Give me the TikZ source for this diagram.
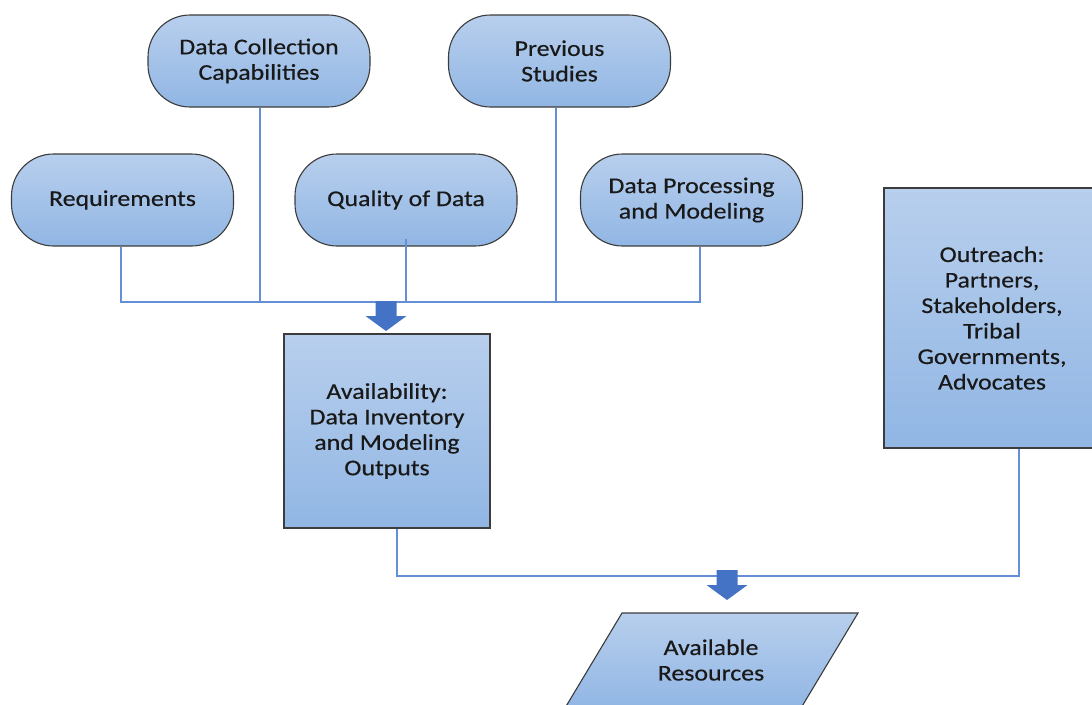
\documentclass[tikz,border=0pt]{standalone}
\usepackage{fontspec}
\setmainfont{Carlito}[FakeStretch=1.15,FakeBold=0.4]
\definecolor{topc}{RGB}{184,207,237}
\definecolor{botc}{RGB}{145,182,228}
\definecolor{edgec}{RGB}{60,60,60}
\definecolor{lnc}{RGB}{100,142,214}
\definecolor{arrc}{RGB}{68,114,196}
\begin{document}
\begin{tikzpicture}[x=1pt,y=-1pt,
  fillshade/.style={draw=edgec, line width=1.1pt, top color=topc, bottom color=botc},
  txt/.style={align=center, font=\fontsize{22.5}{25.5}\selectfont, text=black!90, inner sep=0pt},
  box/.style={fillshade, txt},
  pill/.style={box, rounded corners=42pt, minimum width=222pt, minimum height=92pt},
  sq/.style={box, minimum width=206pt, minimum height=194pt},
  conn/.style={draw=lnc, line width=1.6pt},
  blockarrow/.pic={\fill[arrc] (-10.5,0) -- (10.5,0) -- (10.5,15) -- (20.5,15) -- (0,30) -- (-20.5,15) -- (-10.5,15) -- cycle;}]
\useasboundingbox (0,0) rectangle (1092,704);
\node[pill] (dcc) at (259,61) {Data Collection\\Capabilities};
\node[pill] (prev) at (559.5,61) {Previous\\Studies};
\node[pill] (req) at (122.5,200) {Requirements};
\node[pill] (qual) at (406,200) {Quality of Data};
\node[pill] (dpm) at (691.5,200) {Data Processing\\and Modeling};
\node[sq] (avail) at (387,431) {Availability:\\Data Inventory\\and Modeling\\Outputs};
\node[box, minimum width=216pt, minimum height=260pt] (out) at (992,318) {Outreach:\\Partners,\\Stakeholders,\\Tribal\\Governments,\\Advocates};
\path[fillshade] (622,613) coordinate (restl) -- (858,613) coordinate (restr) -- (801,708) -- (565,708) -- cycle;
\node[txt] (res) at (711,660) {Available\\Resources};
\coordinate (bus1) at (386,302);
\coordinate (bus2) at (727,576);
\draw[conn] ([xshift=-1.5pt]req.south) |- ([xshift=8.5pt]dpm.south |- bus1) -- ([xshift=8.5pt]dpm.south);
\draw[conn] ([xshift=1pt]dcc.south) -- ([xshift=1pt]dcc.south |- bus1);
\draw[conn] ([yshift=8pt]qual.south) -- (qual.south |- bus1);
\draw[conn] ([xshift=-3.5pt]prev.south) -- ([xshift=-3.5pt]prev.south |- bus1);
\draw[conn] ([xshift=10pt]avail.south) |- (bus2) -| ([xshift=27pt]out.south);
\pic at ([yshift=1pt]bus1) {blockarrow};
\pic at ([yshift=6pt]bus2) {blockarrow};
\end{tikzpicture}
\end{document}
